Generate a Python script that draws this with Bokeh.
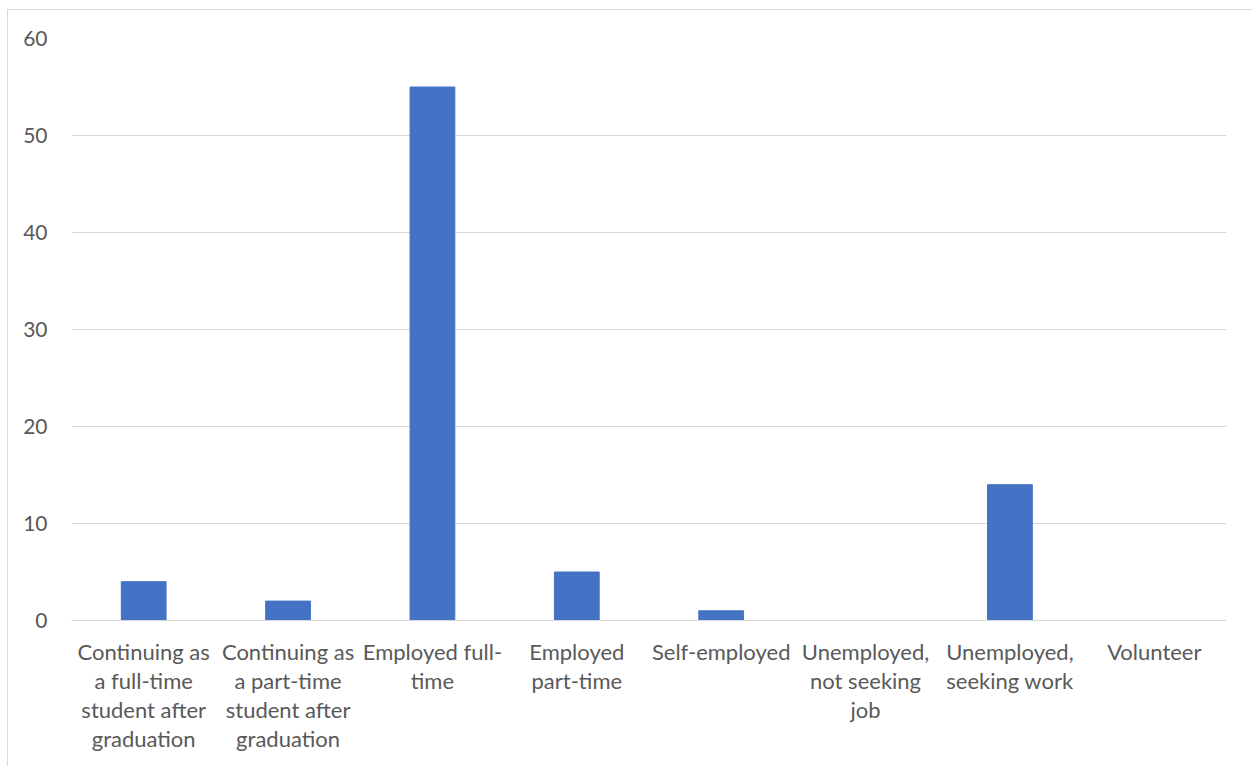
from bokeh.plotting import figure
from bokeh.embed import file_html
from bokeh.resources import INLINE
from bokeh.models import FixedTicker

categories = [
    "Continuing as\na full-time\nstudent after\ngraduation",
    "Continuing as\na part-time\nstudent after\ngraduation",
    "Employed full-\ntime",
    "Employed\npart-time",
    "Self-employed",
    "Unemployed,\nnot seeking\njob",
    "Unemployed,\nseeking work",
    "Volunteer",
]
values = [4, 2, 55, 5, 1, 0, 14, 0]
y_ticks = [0, 10, 20, 30, 40, 50, 60]

FONT = "Lato"
TXT = "#595959"
GRID = "#d9d9d9"

p = figure(x_range=categories, y_range=(0, 60), width=1245, height=757,
           output_backend="svg", toolbar_location=None,
           min_border_left=63, min_border_right=27, min_border_top=28, min_border_bottom=147,
           styles={"margin-left": "7px", "margin-top": "9px",
                   "border-left": "1px solid #d9d9d9", "border-top": "1px solid #d9d9d9"})
p.vbar(x=categories, top=values, width=0.31, color="#4472C4")

p.outline_line_color = None
p.xgrid.grid_line_color = None
p.ygrid.grid_line_color = GRID
p.ygrid.ticker = FixedTicker(ticks=y_ticks)

p.yaxis.ticker = FixedTicker(ticks=y_ticks)
p.yaxis.axis_line_color = None
p.yaxis.major_tick_line_color = None
p.yaxis.minor_tick_line_color = None
p.yaxis.major_label_standoff = 18
p.yaxis.major_label_text_font = FONT
p.yaxis.major_label_text_font_size = "21px"
p.yaxis.major_label_text_color = TXT

p.xaxis.axis_line_color = GRID
p.xaxis.major_tick_line_color = None
p.xaxis.minor_tick_line_color = None
p.xaxis.major_label_standoff = 11
p.xaxis.major_label_text_font = FONT
p.xaxis.major_label_text_font_size = "22px"
p.xaxis.major_label_text_color = TXT
p.xaxis.major_label_text_line_height = 1.08
p.xaxis.major_label_orientation = "horizontal"

open("out.html", "w").write(file_html(p, INLINE))
